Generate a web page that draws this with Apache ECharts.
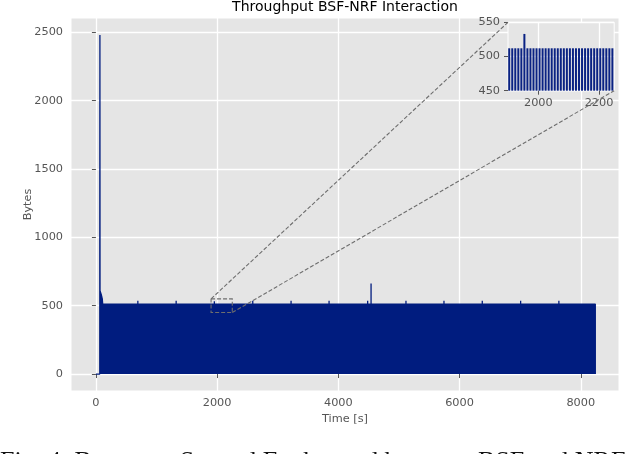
<!DOCTYPE html>
<html>
<head>
<meta charset="utf-8">
<script src="https://cdn.jsdelivr.net/npm/echarts@6/dist/echarts.min.js"></script>
<style>
html,body{margin:0;padding:0;background:#fff;}
#main{width:640px;height:454px;}
</style>
</head>
<body>
<div id="main"></div>
<script>
// ---- data ----
const startTimes = [0, 64, 66, 68, 75, 85, 95, 105, 112];
const startBytes = [0, 0, 2480, 610, 600, 585, 570, 550, 512];
const plateauBytes = 512;
const spikeTimes = [692, 1324, 1954, 2588, 3220, 3847, 4484, 4540, 5116, 5743, 6375, 7008, 7639];
const spikeBytes = [536, 536, 533, 536, 536, 536, 536, 662, 536, 536, 536, 536, 536];
const endTime = 8240;

const insetTimes = [1904, 1914, 1924, 1934, 1944, 1954, 1964, 1974, 1984, 1994,
                    2004, 2014, 2024, 2034, 2044, 2054, 2064, 2074, 2084, 2094,
                    2104, 2114, 2124, 2134, 2144, 2154, 2164, 2174, 2184, 2194,
                    2204, 2214, 2224, 2234, 2244];
const insetBytes = [512, 512, 512, 512, 512, 533, 512, 512, 512, 512,
                    512, 512, 512, 512, 512, 512, 512, 512, 512, 512,
                    512, 512, 512, 512, 512, 512, 512, 512, 512, 512,
                    512, 512, 512, 512, 512];

const xTicks = [0, 2000, 4000, 6000, 8000];
const yTicks = [0, 500, 1000, 1500, 2000, 2500];
const insetXTicks = [2000, 2200];
const insetYTicks = [450, 500, 550];
const mainXRange = [-411, 8631];
const mainYRange = [-124, 2604];
const insetXRange = [1900, 2250];
const insetYRange = [450, 550];

// ---- build series data ----
const mainData = [];
for (let i = 0; i < startTimes.length; i++) mainData.push([startTimes[i], startBytes[i]]);
for (let i = 0; i < spikeTimes.length; i++) {
  mainData.push([spikeTimes[i], plateauBytes]);
  mainData.push([spikeTimes[i], spikeBytes[i]]);
  mainData.push([spikeTimes[i], plateauBytes]);
}
mainData.push([endTime, plateauBytes]);
mainData.push([endTime, 0]);

const insetData = insetTimes.map((t, i) => [t, insetBytes[i]]);

const NAVY = '#001C7F';
const FONT = 'DejaVu Sans';
const labelStyle = {color: '#555555', fontFamily: FONT, fontSize: 11.3};
const plain = v => String(v);

const chart = echarts.init(document.getElementById('main'), null, {renderer: 'canvas'});

function axisCommon(extra) {
  return Object.assign({
    axisLine: {show: false},
    splitLine: {show: true, lineStyle: {color: '#ffffff', width: 1.3}},
  }, extra);
}
function ticks(vals) {
  return {show: true, inside: false, length: 4, customValues: vals, lineStyle: {color: '#555555', width: 1}};
}
function labels(vals, margin) {
  return Object.assign({margin: margin, customValues: vals, formatter: plain}, labelStyle);
}

const option = {
  animation: false,
  backgroundColor: '#ffffff',
  title: {
    text: 'Throughput BSF-NRF Interaction',
    left: 345, top: 0, padding: 0, textAlign: 'center',
    textStyle: {fontFamily: FONT, fontSize: 14, fontWeight: 'normal', color: '#000000'}
  },
  grid: [
    {left: 71, top: 18, width: 548, height: 373, show: true, backgroundColor: '#E5E5E5',
     borderColor: '#ffffff', borderWidth: 1, containLabel: false, outerBoundsMode: 'none'},
    {left: 508, top: 22.3, width: 106.2, height: 68.4, show: true, backgroundColor: '#E5E5E5',
     borderColor: '#ffffff', borderWidth: 1, containLabel: false, outerBoundsMode: 'none', z: 5}
  ],
  xAxis: [
    axisCommon({type: 'value', gridIndex: 0, min: mainXRange[0], max: mainXRange[1],
      name: 'Time [s]', nameLocation: 'middle', nameGap: 21,
      nameTextStyle: labelStyle,
      axisTick: ticks(xTicks), axisLabel: labels(xTicks, 7)}),
    axisCommon({type: 'value', gridIndex: 1, min: insetXRange[0], max: insetXRange[1], z: 6,
      axisTick: ticks(insetXTicks), axisLabel: labels(insetXTicks, 7)})
  ],
  yAxis: [
    axisCommon({type: 'value', gridIndex: 0, min: mainYRange[0], max: mainYRange[1],
      name: 'Bytes', nameLocation: 'middle', nameGap: 37, nameRotate: 90, nameMoveOverlap: false,
      nameTextStyle: labelStyle,
      axisTick: ticks(yTicks), axisLabel: labels(yTicks, 8)}),
    axisCommon({type: 'value', gridIndex: 1, min: insetYRange[0], max: insetYRange[1], interval: 50, z: 6,
      axisTick: ticks(insetYTicks), axisLabel: labels(insetYTicks, 8)})
  ],
  series: [
    {
      type: 'line', xAxisIndex: 0, yAxisIndex: 0, data: mainData,
      showSymbol: false, symbol: 'none', sampling: null, z: 2,
      lineStyle: {color: NAVY, width: 1.3},
      areaStyle: {color: NAVY, opacity: 1},
      itemStyle: {color: NAVY}
    },
    {
      type: 'bar', xAxisIndex: 1, yAxisIndex: 1, data: insetData,
      barWidth: 2, clip: true, z: 10,
      itemStyle: {color: '#0a2283'}
    }
  ]
};
chart.setOption(option);

// ---- inset markers computed through the axes ----
const tl0 = chart.convertToPixel({gridIndex: 0}, [insetXRange[0], insetYRange[1]]);
const br0 = chart.convertToPixel({gridIndex: 0}, [insetXRange[1], insetYRange[0]]);
const tl1 = chart.convertToPixel({gridIndex: 1}, [insetXRange[0], insetYRange[1]]);
const br1 = chart.convertToPixel({gridIndex: 1}, [insetXRange[1], insetYRange[0]]);
const dashStyle = {stroke: '#6e6e6e', lineWidth: 1.1, lineDash: [4, 2], fill: null};

chart.setOption({
  graphic: [
    {type: 'polyline', z: 50, silent: true,
     shape: {points: [[tl0[0], tl0[1]], [br0[0], tl0[1]], [br0[0], br0[1]], [tl0[0], br0[1]], [tl0[0], tl0[1]]]},
     style: dashStyle},
    {type: 'line', z: 50, silent: true,
     shape: {x1: tl0[0], y1: tl0[1], x2: tl1[0], y2: tl1[1]}, style: dashStyle},
    {type: 'line', z: 50, silent: true,
     shape: {x1: br0[0], y1: br0[1], x2: br1[0], y2: br1[1]}, style: dashStyle},
    {type: 'text', z: 50, silent: true, x: 0, y: 449,
     style: {text: 'Fig. 4: Bytes per Second Exchanged between BSF and NRF',
             font: '26px "Liberation Serif"', fill: '#111111', align: 'left', verticalAlign: 'top'}}
  ]
});
</script>
</body>
</html>
